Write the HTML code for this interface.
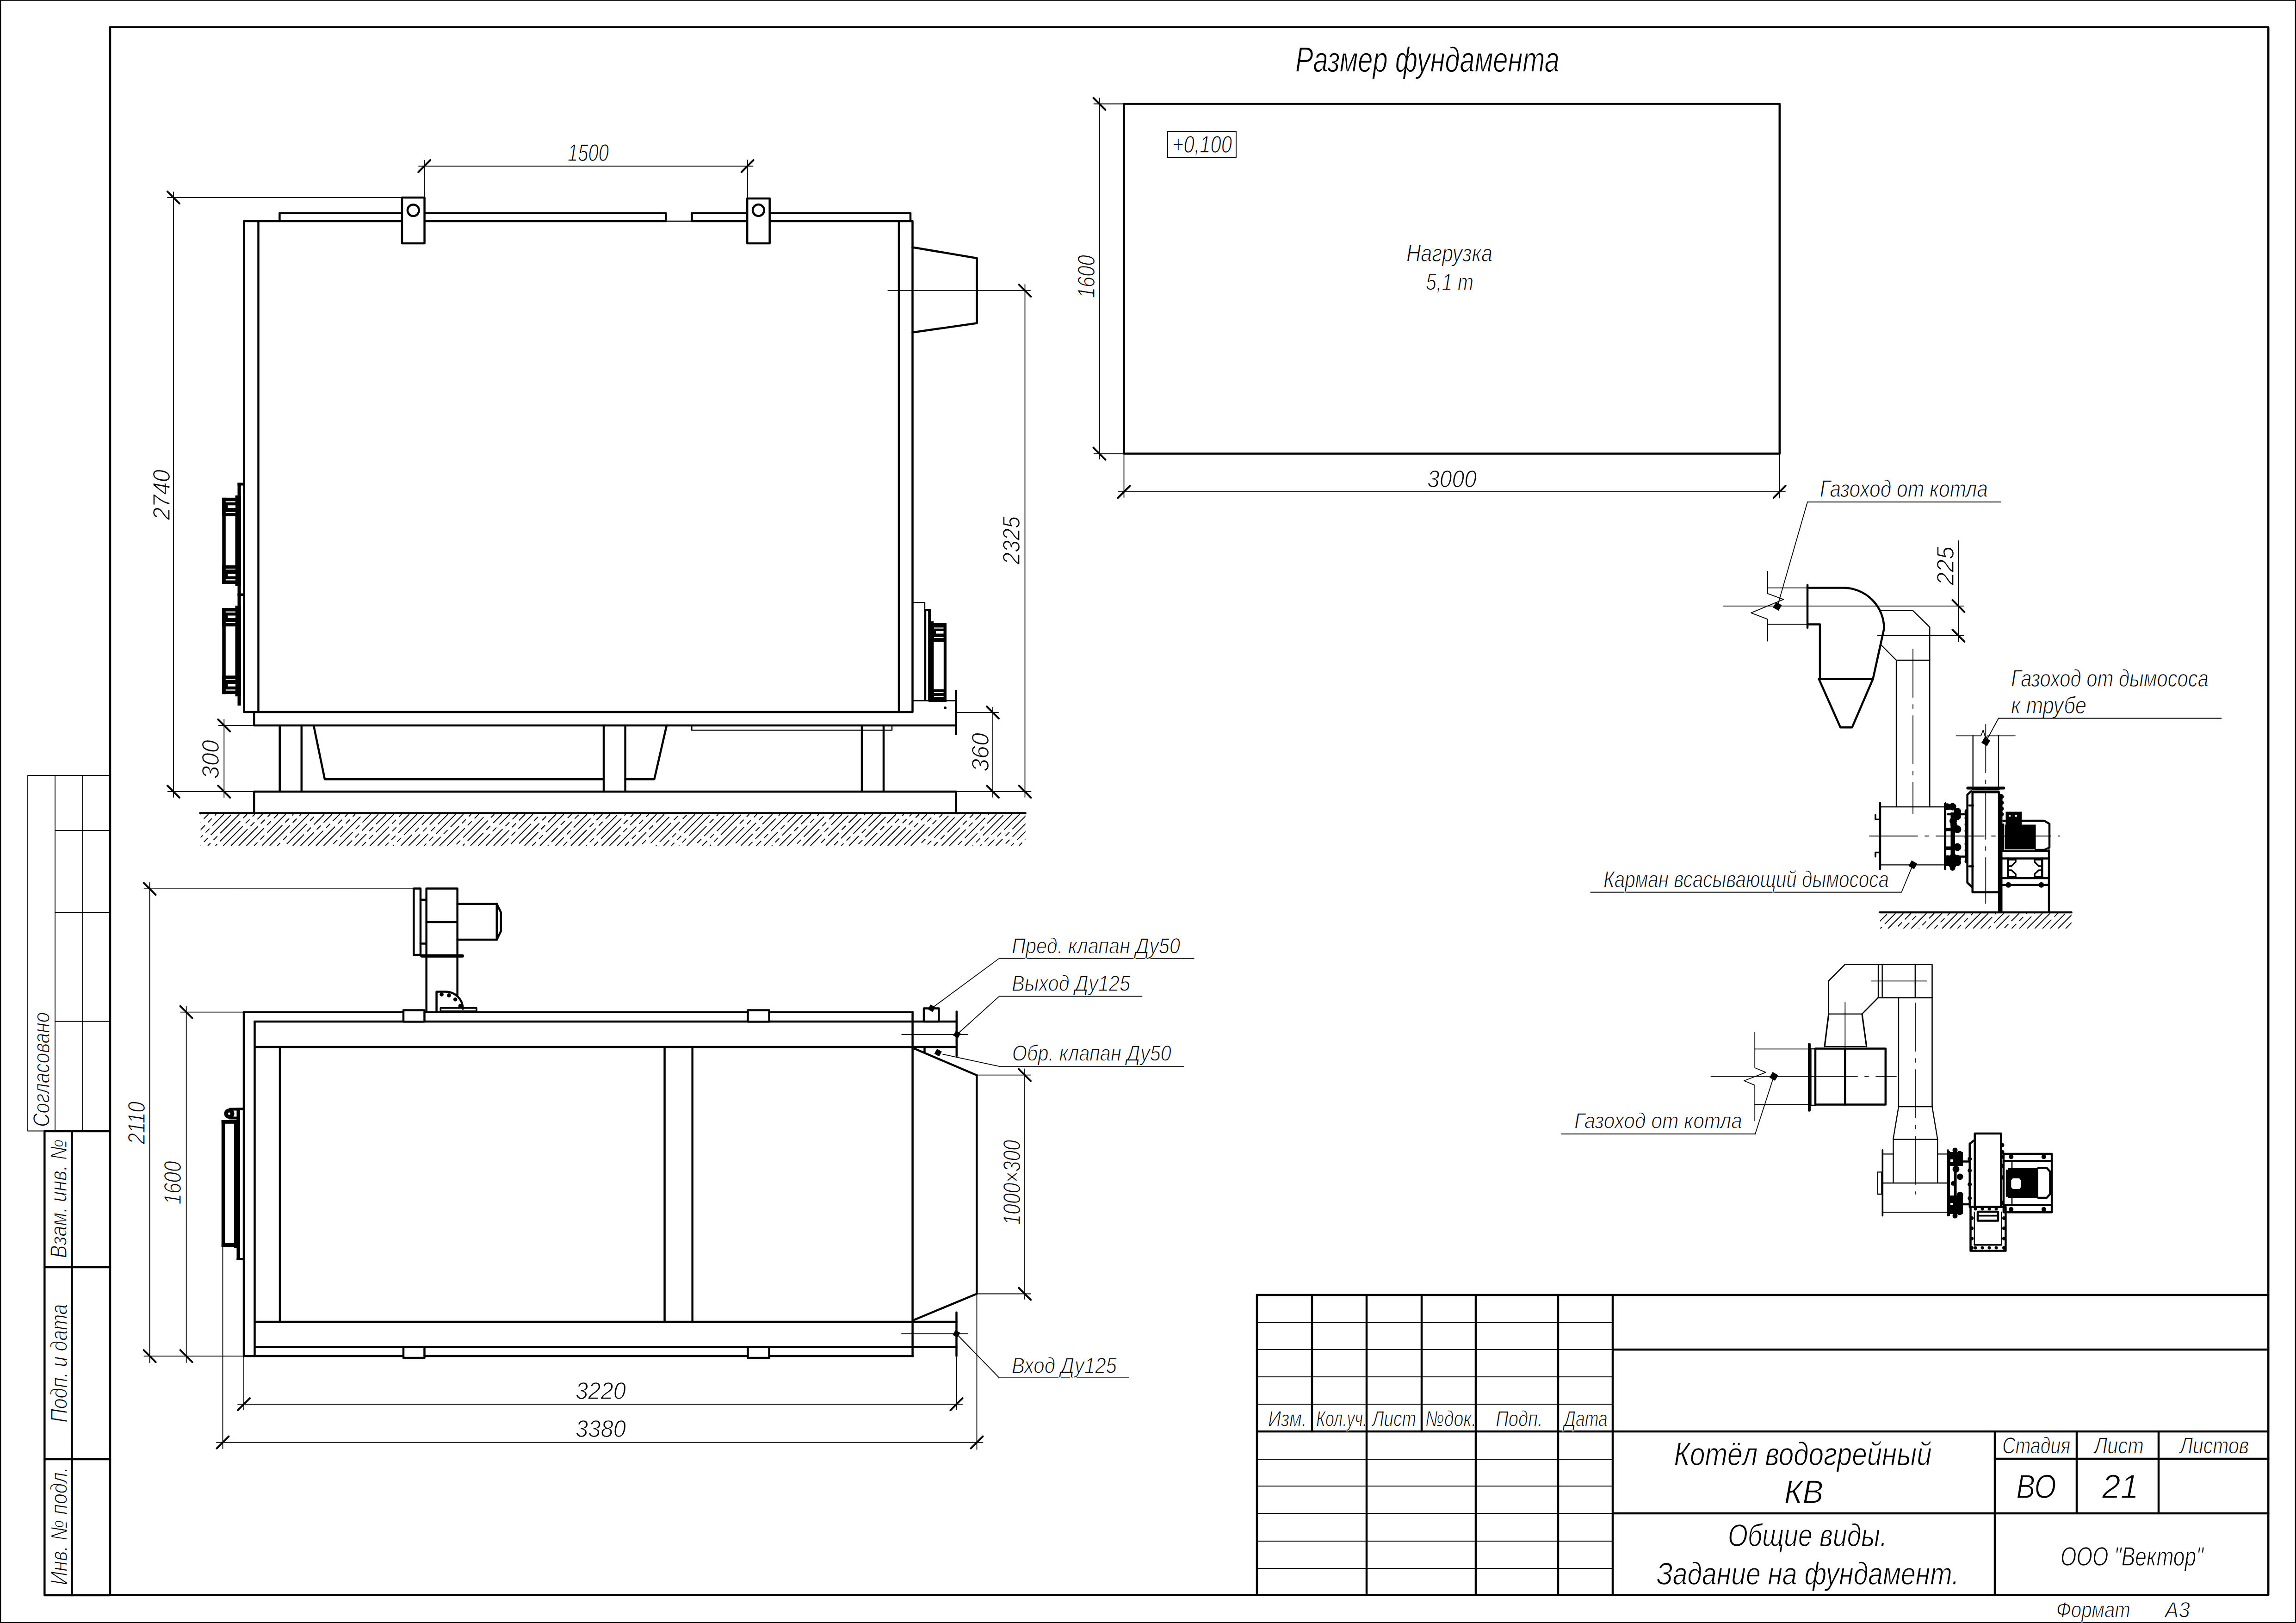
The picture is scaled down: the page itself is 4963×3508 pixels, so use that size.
<!DOCTYPE html>
<html><head><meta charset="utf-8"><style>
html,body{margin:0;padding:0;background:#fff;}
svg{display:block;}
text{font-family:"Liberation Sans",sans-serif;font-style:italic;fill:#000;stroke:#fff;stroke-width:1.3px;}
</style></head><body>
<svg width="4963" height="3508" viewBox="0 0 4963 3508">
<rect x="0" y="0" width="4963" height="3508" fill="#fff"/>
<g stroke="#000" fill="none" stroke-linecap="round" stroke-linejoin="round">
<rect x="1.2" y="0.6" width="4960.6" height="3506.4" stroke-width="2.2" fill="none"/>
<rect x="238" y="58.7" width="4665.2" height="3388.8" stroke-width="4.5" fill="none"/>
<rect x="60" y="1676" width="178" height="768.5" stroke-width="1.8" fill="none"/>
<line x1="119" y1="1676" x2="119" y2="2444.5" stroke-width="1.8"/>
<line x1="178.6" y1="1676" x2="178.6" y2="2444.5" stroke-width="1.8"/>
<line x1="119" y1="1795" x2="238" y2="1795" stroke-width="1.8"/>
<line x1="119" y1="1972" x2="238" y2="1972" stroke-width="1.8"/>
<line x1="119" y1="2207.6" x2="238" y2="2207.6" stroke-width="1.8"/>
<polyline points="238,2445 96.3,2445 96.3,3448 238,3448" stroke-width="4.5" fill="none"/>
<line x1="155.5" y1="2445" x2="155.5" y2="3448" stroke-width="4.5"/>
<line x1="96.3" y1="2739" x2="238" y2="2739" stroke-width="4.5"/>
<line x1="96.3" y1="3154" x2="238" y2="3154" stroke-width="4.5"/>
<text x="107.3" y="2435.8" font-size="49.4" text-anchor="start" textLength="248.1" lengthAdjust="spacingAndGlyphs" transform="rotate(-90 107.3 2435.8)">Согласовано</text>
<text x="144" y="2719.2" font-size="50.1" text-anchor="start" textLength="257.1" lengthAdjust="spacingAndGlyphs" transform="rotate(-90 144 2719.2)">Взам. инв. №</text>
<text x="144.7" y="3074.8" font-size="50.1" text-anchor="start" textLength="256.1" lengthAdjust="spacingAndGlyphs" transform="rotate(-90 144.7 3074.8)">Подп. и дата</text>
<text x="144.7" y="3426" font-size="50.1" text-anchor="start" textLength="255.2" lengthAdjust="spacingAndGlyphs" transform="rotate(-90 144.7 3426)">Инв. № подл.</text>
<line x1="2954" y1="2799" x2="2954" y2="3447.5" stroke-width="4.5"/>
<line x1="3190" y1="2799" x2="3190" y2="3447.5" stroke-width="4.5"/>
<line x1="3368" y1="2799" x2="3368" y2="3447.5" stroke-width="4.5"/>
<line x1="3486" y1="2799" x2="3486" y2="3447.5" stroke-width="4.5"/>
<line x1="2836" y1="2799" x2="2836" y2="3094" stroke-width="4.5"/>
<line x1="3073" y1="2799" x2="3073" y2="3094" stroke-width="4.5"/>
<line x1="2717" y1="2799" x2="2717" y2="3447.5" stroke-width="4.5"/>
<line x1="2717" y1="2799" x2="4903.2" y2="2799" stroke-width="4.5"/>
<line x1="2717" y1="2858" x2="3486" y2="2858" stroke-width="1.8"/>
<line x1="2717" y1="2917" x2="3486" y2="2917" stroke-width="1.8"/>
<line x1="2717" y1="2976" x2="3486" y2="2976" stroke-width="1.8"/>
<line x1="2717" y1="3035" x2="3486" y2="3035" stroke-width="1.8"/>
<line x1="2717" y1="3094" x2="4903.2" y2="3094" stroke-width="4.5"/>
<line x1="2717" y1="3154" x2="3486" y2="3154" stroke-width="1.8"/>
<line x1="2717" y1="3212" x2="3486" y2="3212" stroke-width="1.8"/>
<line x1="2717" y1="3271" x2="3486" y2="3271" stroke-width="1.8"/>
<line x1="2717" y1="3331" x2="3486" y2="3331" stroke-width="1.8"/>
<line x1="2717" y1="3390" x2="3486" y2="3390" stroke-width="1.8"/>
<line x1="3486" y1="2917" x2="4903.2" y2="2917" stroke-width="4.5"/>
<line x1="3486" y1="3271" x2="4903.2" y2="3271" stroke-width="4.5"/>
<line x1="4312" y1="3094" x2="4312" y2="3447.5" stroke-width="4.5"/>
<line x1="4489" y1="3094" x2="4489" y2="3271" stroke-width="4.5"/>
<line x1="4666" y1="3094" x2="4666" y2="3271" stroke-width="4.5"/>
<line x1="4312" y1="3153" x2="4903.2" y2="3153" stroke-width="4.5"/>
<text x="2741" y="3082.7" font-size="48" text-anchor="start" textLength="83.7" lengthAdjust="spacingAndGlyphs">Изм.</text>
<text x="2845" y="3082.7" font-size="48" text-anchor="start" textLength="110.4" lengthAdjust="spacingAndGlyphs">Кол.уч.</text>
<text x="2966.2" y="3082.7" font-size="48" text-anchor="start" textLength="95" lengthAdjust="spacingAndGlyphs">Лист</text>
<text x="3081" y="3082.7" font-size="48" text-anchor="start" textLength="110.5" lengthAdjust="spacingAndGlyphs">№док.</text>
<text x="3233.2" y="3082.7" font-size="48" text-anchor="start" textLength="101.6" lengthAdjust="spacingAndGlyphs">Подп.</text>
<text x="3380.8" y="3082.7" font-size="48" text-anchor="start" textLength="94" lengthAdjust="spacingAndGlyphs">Дата</text>
<text x="4328.2" y="3142" font-size="50.4" text-anchor="start" textLength="147.1" lengthAdjust="spacingAndGlyphs">Стадия</text>
<text x="4526.8" y="3142" font-size="50.4" text-anchor="start" textLength="107" lengthAdjust="spacingAndGlyphs">Лист</text>
<text x="4712" y="3142" font-size="50.4" text-anchor="start" textLength="149" lengthAdjust="spacingAndGlyphs">Листов</text>
<text x="4358.4" y="3237.8" font-size="72.7" text-anchor="start" textLength="86.3" lengthAdjust="spacingAndGlyphs">ВО</text>
<text x="4544" y="3237.8" font-size="72.7" text-anchor="start" textLength="78.8" lengthAdjust="spacingAndGlyphs">21</text>
<text x="3618.6" y="3166.8" font-size="71.2" text-anchor="start" textLength="557" lengthAdjust="spacingAndGlyphs">Котёл водогрейный</text>
<text x="3856.8" y="3249" font-size="71.2" text-anchor="start" textLength="84.4" lengthAdjust="spacingAndGlyphs">КВ</text>
<text x="3735" y="3342.4" font-size="68.3" text-anchor="start" textLength="344.4" lengthAdjust="spacingAndGlyphs">Общие виды.</text>
<text x="3580.8" y="3424.7" font-size="68.3" text-anchor="start" textLength="654.1" lengthAdjust="spacingAndGlyphs">Задание на фундамент.</text>
<text x="4454" y="3384" font-size="58.1" text-anchor="start" textLength="309" lengthAdjust="spacingAndGlyphs">ООО "Вектор"</text>
<text x="4444.8" y="3495.7" font-size="48" text-anchor="start" textLength="160.1" lengthAdjust="spacingAndGlyphs">Формат</text>
<text x="4679.8" y="3495.7" font-size="48" text-anchor="start" textLength="54" lengthAdjust="spacingAndGlyphs">А3</text>
<polyline points="1439.3,478 527.5,478 527.5,1539 1972.5,1539 1972.5,478 1495.5,478" stroke-width="4.5" fill="none"/>
<line x1="1439.3" y1="478" x2="1495.5" y2="478" stroke-width="2.6"/>
<line x1="558.5" y1="478" x2="558.5" y2="1539" stroke-width="4.5"/>
<line x1="1943" y1="478" x2="1943" y2="1539" stroke-width="4.5"/>
<polyline points="604.4,478 604.4,460.8 869,460.8" stroke-width="4.5" fill="none"/>
<polyline points="917.6,460.8 1439.3,460.8 1439.3,478" stroke-width="4.5" fill="none"/>
<polyline points="1495.5,478 1495.5,460.8 1615.2,460.8" stroke-width="4.5" fill="none"/>
<polyline points="1663.7,460.8 1968,460.8 1968,478" stroke-width="4.5" fill="none"/>
<rect x="869" y="427" width="48.6" height="99" stroke-width="4.5" fill="#fff"/>
<circle cx="893.3" cy="454.6" r="12.4" stroke-width="4.5" fill="none"/>
<rect x="1615.2" y="429" width="48.5" height="97" stroke-width="4.5" fill="#fff"/>
<circle cx="1639.4" cy="454.4" r="12.4" stroke-width="4.5" fill="none"/>
<polyline points="1972.5,534.5 2111.6,558 2111.6,698.4 1972.5,718.5" stroke-width="4.5" fill="none"/>
<line x1="1919.4" y1="628.2" x2="2227" y2="628.2" stroke-width="1.8"/>
<polyline points="549.2,1539 549.2,1568 2066.6,1568" stroke-width="4.5" fill="none"/>
<line x1="2066.6" y1="1493" x2="2066.6" y2="1587" stroke-width="4.5"/>
<line x1="1973" y1="1514.5" x2="2066.6" y2="1514.5" stroke-width="3.15"/>
<line x1="604.7" y1="1568" x2="604.7" y2="1711" stroke-width="4.5"/>
<line x1="651.8" y1="1568" x2="651.8" y2="1711" stroke-width="4.5"/>
<line x1="1305" y1="1568" x2="1305" y2="1711" stroke-width="4.5"/>
<line x1="1351.6" y1="1568" x2="1351.6" y2="1711" stroke-width="4.5"/>
<line x1="1863" y1="1568" x2="1863" y2="1711" stroke-width="4.5"/>
<line x1="1910" y1="1568" x2="1910" y2="1711" stroke-width="4.5"/>
<polyline points="678,1568 702,1684.3 1305,1684.3" stroke-width="4.5" fill="none"/>
<polyline points="1351.6,1684.3 1414.3,1684.3 1441,1568" stroke-width="4.5" fill="none"/>
<rect x="1495.3" y="1568" width="432.7" height="10.2" stroke-width="2.6" fill="none"/>
<line x1="549.2" y1="1711" x2="2066.6" y2="1711" stroke-width="4.5"/>
<line x1="549.2" y1="1711" x2="549.2" y2="1757.6" stroke-width="4.5"/>
<line x1="2066.6" y1="1711" x2="2066.6" y2="1757.6" stroke-width="4.5"/>
<line x1="432.5" y1="1757.6" x2="2216.6" y2="1757.6" stroke-width="4.5"/>
<rect x="513.5" y="1043.5" width="7.2" height="481.5" stroke="none" fill="#000"/>
<rect x="513.5" y="1043.5" width="16.5" height="6" stroke="none" fill="#000"/>
<rect x="513.5" y="1282.5" width="16.5" height="5.5" stroke="none" fill="#000"/>
<rect x="480.3" y="1075.8" width="7.5" height="186.2" stroke="none" fill="#000"/>
<rect x="508.5" y="1070.8" width="12.2" height="196.2" stroke="none" fill="#000"/>
<rect x="480.3" y="1075.8" width="28.7" height="40" stroke="none" fill="#000"/>
<rect x="480.3" y="1222" width="28.7" height="40" stroke="none" fill="#000"/>
<rect x="487.8" y="1083.3" width="21" height="2.4" fill="#fff" stroke="none"/>
<rect x="487.8" y="1252.1" width="21" height="2.4" fill="#fff" stroke="none"/>
<rect x="492.5" y="1092.3" width="16.5" height="5.5" fill="#fff" stroke="none"/>
<rect x="492.5" y="1240" width="16.5" height="5.5" fill="#fff" stroke="none"/>
<rect x="487.8" y="1106.8" width="21" height="2" fill="#fff" stroke="none"/>
<rect x="487.8" y="1229" width="21" height="2" fill="#fff" stroke="none"/>
<rect x="480.3" y="1314" width="7.5" height="186.2" stroke="none" fill="#000"/>
<rect x="508.5" y="1309" width="12.2" height="196.2" stroke="none" fill="#000"/>
<rect x="480.3" y="1314" width="28.7" height="40" stroke="none" fill="#000"/>
<rect x="480.3" y="1460.2" width="28.7" height="40" stroke="none" fill="#000"/>
<rect x="487.8" y="1321.5" width="21" height="2.4" fill="#fff" stroke="none"/>
<rect x="487.8" y="1490.3" width="21" height="2.4" fill="#fff" stroke="none"/>
<rect x="492.5" y="1330.5" width="16.5" height="5.5" fill="#fff" stroke="none"/>
<rect x="492.5" y="1478.2" width="16.5" height="5.5" fill="#fff" stroke="none"/>
<rect x="487.8" y="1345" width="21" height="2" fill="#fff" stroke="none"/>
<rect x="487.8" y="1467.2" width="21" height="2" fill="#fff" stroke="none"/>
<polyline points="1972.7,1302.5 1999,1302.5 1999,1317.8" stroke-width="2.3400000000000003" fill="none"/>
<rect x="1997.5" y="1316" width="4.7" height="200" stroke="none" fill="#000"/>
<rect x="1997.5" y="1316" width="14.5" height="4" stroke="none" fill="#000"/>
<rect x="2006.2" y="1316" width="6.1" height="200" stroke="none" fill="#000"/>
<rect x="2007.3" y="1343" width="11.1" height="174" stroke="none" fill="#000"/>
<rect x="2039.8" y="1346" width="6.2" height="171" stroke="none" fill="#000"/>
<rect x="2018" y="1346" width="28" height="41" stroke="none" fill="#000"/>
<rect x="2018" y="1490" width="28" height="27" stroke="none" fill="#000"/>
<rect x="2019" y="1356.4" width="20.5" height="2.2" fill="#fff" stroke="none"/>
<rect x="2023" y="1364" width="16.5" height="5.5" fill="#fff" stroke="none"/>
<rect x="2019" y="1377" width="20.5" height="2" fill="#fff" stroke="none"/>
<rect x="2019" y="1496" width="20.5" height="2" fill="#fff" stroke="none"/>
<rect x="2019" y="1504" width="20.5" height="2.2" fill="#fff" stroke="none"/>
<circle cx="2043" cy="1530" r="3" stroke="none" fill="#000"/>
<line x1="905" y1="359" x2="1627.7" y2="359" stroke-width="1.8"/>
<line x1="904.2" y1="372" x2="930.2" y2="346" stroke-width="4.0"/>
<line x1="1602.7" y1="372" x2="1628.7" y2="346" stroke-width="4.0"/>
<line x1="917.2" y1="346.7" x2="917.2" y2="427" stroke-width="1.8"/>
<line x1="1615.7" y1="346" x2="1615.7" y2="429" stroke-width="1.8"/>
<text x="1227" y="347.6" font-size="50.9" text-anchor="start" textLength="89" lengthAdjust="spacingAndGlyphs">1500</text>
<line x1="374.9" y1="414.8" x2="374.9" y2="1723" stroke-width="1.8"/>
<line x1="361.9" y1="413.8" x2="387.9" y2="439.8" stroke-width="4.0"/>
<line x1="361.9" y1="1698" x2="387.9" y2="1724" stroke-width="4.0"/>
<line x1="362" y1="426.8" x2="869" y2="426.8" stroke-width="1.8"/>
<line x1="362.8" y1="1711" x2="549.2" y2="1711" stroke-width="1.8"/>
<text x="367" y="1124" font-size="50.9" text-anchor="start" textLength="109" lengthAdjust="spacingAndGlyphs" transform="rotate(-90 367 1124)">2740</text>
<line x1="484.3" y1="1555" x2="484.3" y2="1724" stroke-width="1.8"/>
<line x1="471.3" y1="1555" x2="497.3" y2="1581" stroke-width="4.0"/>
<line x1="471.3" y1="1698" x2="497.3" y2="1724" stroke-width="4.0"/>
<line x1="472.8" y1="1568" x2="549.2" y2="1568" stroke-width="1.8"/>
<text x="472.8" y="1683.4" font-size="50.9" text-anchor="start" textLength="84.1" lengthAdjust="spacingAndGlyphs" transform="rotate(-90 472.8 1683.4)">300</text>
<line x1="2146" y1="1528.6" x2="2146" y2="1723" stroke-width="1.8"/>
<line x1="2133" y1="1527" x2="2159" y2="1553" stroke-width="4.0"/>
<line x1="2133" y1="1698" x2="2159" y2="1724" stroke-width="4.0"/>
<line x1="2068" y1="1540" x2="2158" y2="1540" stroke-width="1.8"/>
<line x1="2068" y1="1711" x2="2228.5" y2="1711" stroke-width="1.8"/>
<text x="2137" y="1668" font-size="50.9" text-anchor="start" textLength="84.1" lengthAdjust="spacingAndGlyphs" transform="rotate(-90 2137 1668)">360</text>
<line x1="2215.5" y1="615" x2="2215.5" y2="1723" stroke-width="1.8"/>
<line x1="2202.5" y1="615.2" x2="2228.5" y2="641.2" stroke-width="4.0"/>
<line x1="2202.5" y1="1698" x2="2228.5" y2="1724" stroke-width="4.0"/>
<text x="2204" y="1220" font-size="50.9" text-anchor="start" textLength="104" lengthAdjust="spacingAndGlyphs" transform="rotate(-90 2204 1220)">2325</text>
<clipPath id="hc1"><rect x="433.7" y="1760" width="1782.9" height="68"/></clipPath>
<g clip-path="url(#hc1)" stroke-linecap="butt">
<line x1="365.7" y1="1828" x2="433.7" y2="1760" stroke-width="2.0" stroke-dasharray="62,9,12,9" stroke-dashoffset="16.1"/>
<line x1="382.4" y1="1828" x2="450.4" y2="1760" stroke-width="2.0" stroke-dasharray="62,9,12,9" stroke-dashoffset="101.7"/>
<line x1="399.1" y1="1828" x2="467.1" y2="1760" stroke-width="2.0" stroke-dasharray="62,9,12,9" stroke-dashoffset="91.7"/>
<line x1="415.8" y1="1828" x2="483.8" y2="1760" stroke-width="2.0" stroke-dasharray="62,9,12,9" stroke-dashoffset="30.6"/>
<line x1="432.5" y1="1828" x2="500.5" y2="1760" stroke-width="2.0" stroke-dasharray="62,9,12,9" stroke-dashoffset="59.5"/>
<line x1="449.2" y1="1828" x2="517.2" y2="1760" stroke-width="2.0" stroke-dasharray="62,9,12,9" stroke-dashoffset="53.9"/>
<line x1="465.9" y1="1828" x2="533.9" y2="1760" stroke-width="2.0" stroke-dasharray="62,9,12,9" stroke-dashoffset="78.2"/>
<line x1="482.6" y1="1828" x2="550.6" y2="1760" stroke-width="2.0" stroke-dasharray="62,9,12,9" stroke-dashoffset="94.6"/>
<line x1="499.3" y1="1828" x2="567.3" y2="1760" stroke-width="2.0" stroke-dasharray="62,9,12,9" stroke-dashoffset="11.3"/>
<line x1="516" y1="1828" x2="584" y2="1760" stroke-width="2.0" stroke-dasharray="62,9,12,9" stroke-dashoffset="3.4"/>
<line x1="532.7" y1="1828" x2="600.7" y2="1760" stroke-width="2.0" stroke-dasharray="62,9,12,9" stroke-dashoffset="100.3"/>
<line x1="549.4" y1="1828" x2="617.4" y2="1760" stroke-width="2.0" stroke-dasharray="62,9,12,9" stroke-dashoffset="51.9"/>
<line x1="566.1" y1="1828" x2="634.1" y2="1760" stroke-width="2.0" stroke-dasharray="62,9,12,9" stroke-dashoffset="91.5"/>
<line x1="582.8" y1="1828" x2="650.8" y2="1760" stroke-width="2.0" stroke-dasharray="62,9,12,9" stroke-dashoffset="0.3"/>
<line x1="599.5" y1="1828" x2="667.5" y2="1760" stroke-width="2.0" stroke-dasharray="62,9,12,9" stroke-dashoffset="53.4"/>
<line x1="616.2" y1="1828" x2="684.2" y2="1760" stroke-width="2.0" stroke-dasharray="62,9,12,9" stroke-dashoffset="86.6"/>
<line x1="632.9" y1="1828" x2="700.9" y2="1760" stroke-width="2.0" stroke-dasharray="62,9,12,9" stroke-dashoffset="27.5"/>
<line x1="649.6" y1="1828" x2="717.6" y2="1760" stroke-width="2.0" stroke-dasharray="62,9,12,9" stroke-dashoffset="113.4"/>
<line x1="666.3" y1="1828" x2="734.3" y2="1760" stroke-width="2.0" stroke-dasharray="62,9,12,9" stroke-dashoffset="108.2"/>
<line x1="683" y1="1828" x2="751" y2="1760" stroke-width="2.0" stroke-dasharray="62,9,12,9" stroke-dashoffset="3.7"/>
<line x1="699.7" y1="1828" x2="767.7" y2="1760" stroke-width="2.0" stroke-dasharray="62,9,12,9" stroke-dashoffset="3.1"/>
<line x1="716.4" y1="1828" x2="784.4" y2="1760" stroke-width="2.0" stroke-dasharray="62,9,12,9" stroke-dashoffset="65"/>
<line x1="733.1" y1="1828" x2="801.1" y2="1760" stroke-width="2.0" stroke-dasharray="62,9,12,9" stroke-dashoffset="112.7"/>
<line x1="749.8" y1="1828" x2="817.8" y2="1760" stroke-width="2.0" stroke-dasharray="62,9,12,9" stroke-dashoffset="45.7"/>
<line x1="766.5" y1="1828" x2="834.5" y2="1760" stroke-width="2.0" stroke-dasharray="62,9,12,9" stroke-dashoffset="26"/>
<line x1="783.2" y1="1828" x2="851.2" y2="1760" stroke-width="2.0" stroke-dasharray="62,9,12,9" stroke-dashoffset="50.7"/>
<line x1="799.9" y1="1828" x2="867.9" y2="1760" stroke-width="2.0" stroke-dasharray="62,9,12,9" stroke-dashoffset="3.5"/>
<line x1="816.6" y1="1828" x2="884.6" y2="1760" stroke-width="2.0" stroke-dasharray="62,9,12,9" stroke-dashoffset="26.6"/>
<line x1="833.3" y1="1828" x2="901.3" y2="1760" stroke-width="2.0" stroke-dasharray="62,9,12,9" stroke-dashoffset="52.5"/>
<line x1="850" y1="1828" x2="918" y2="1760" stroke-width="2.0" stroke-dasharray="62,9,12,9" stroke-dashoffset="59.5"/>
<line x1="866.7" y1="1828" x2="934.7" y2="1760" stroke-width="2.0" stroke-dasharray="62,9,12,9" stroke-dashoffset="28"/>
<line x1="883.4" y1="1828" x2="951.4" y2="1760" stroke-width="2.0" stroke-dasharray="62,9,12,9" stroke-dashoffset="27.7"/>
<line x1="900.1" y1="1828" x2="968.1" y2="1760" stroke-width="2.0" stroke-dasharray="62,9,12,9" stroke-dashoffset="26.3"/>
<line x1="916.8" y1="1828" x2="984.8" y2="1760" stroke-width="2.0" stroke-dasharray="62,9,12,9" stroke-dashoffset="55.2"/>
<line x1="933.5" y1="1828" x2="1001.5" y2="1760" stroke-width="2.0" stroke-dasharray="62,9,12,9" stroke-dashoffset="34.8"/>
<line x1="950.2" y1="1828" x2="1018.2" y2="1760" stroke-width="2.0" stroke-dasharray="62,9,12,9" stroke-dashoffset="2.6"/>
<line x1="966.9" y1="1828" x2="1034.9" y2="1760" stroke-width="2.0" stroke-dasharray="62,9,12,9" stroke-dashoffset="100.5"/>
<line x1="983.6" y1="1828" x2="1051.6" y2="1760" stroke-width="2.0" stroke-dasharray="62,9,12,9" stroke-dashoffset="66.8"/>
<line x1="1000.3" y1="1828" x2="1068.3" y2="1760" stroke-width="2.0" stroke-dasharray="62,9,12,9" stroke-dashoffset="77.1"/>
<line x1="1017" y1="1828" x2="1085" y2="1760" stroke-width="2.0" stroke-dasharray="62,9,12,9" stroke-dashoffset="22.3"/>
<line x1="1033.7" y1="1828" x2="1101.7" y2="1760" stroke-width="2.0" stroke-dasharray="62,9,12,9" stroke-dashoffset="119.1"/>
<line x1="1050.4" y1="1828" x2="1118.4" y2="1760" stroke-width="2.0" stroke-dasharray="62,9,12,9" stroke-dashoffset="103.2"/>
<line x1="1067.1" y1="1828" x2="1135.1" y2="1760" stroke-width="2.0" stroke-dasharray="62,9,12,9" stroke-dashoffset="14.5"/>
<line x1="1083.8" y1="1828" x2="1151.8" y2="1760" stroke-width="2.0" stroke-dasharray="62,9,12,9" stroke-dashoffset="39.9"/>
<line x1="1100.5" y1="1828" x2="1168.5" y2="1760" stroke-width="2.0" stroke-dasharray="62,9,12,9" stroke-dashoffset="86.6"/>
<line x1="1117.2" y1="1828" x2="1185.2" y2="1760" stroke-width="2.0" stroke-dasharray="62,9,12,9" stroke-dashoffset="85.3"/>
<line x1="1133.9" y1="1828" x2="1201.9" y2="1760" stroke-width="2.0" stroke-dasharray="62,9,12,9" stroke-dashoffset="112.4"/>
<line x1="1150.6" y1="1828" x2="1218.6" y2="1760" stroke-width="2.0" stroke-dasharray="62,9,12,9" stroke-dashoffset="50.7"/>
<line x1="1167.3" y1="1828" x2="1235.3" y2="1760" stroke-width="2.0" stroke-dasharray="62,9,12,9" stroke-dashoffset="99.6"/>
<line x1="1184" y1="1828" x2="1252" y2="1760" stroke-width="2.0" stroke-dasharray="62,9,12,9" stroke-dashoffset="80.4"/>
<line x1="1200.7" y1="1828" x2="1268.7" y2="1760" stroke-width="2.0" stroke-dasharray="62,9,12,9" stroke-dashoffset="36.4"/>
<line x1="1217.4" y1="1828" x2="1285.4" y2="1760" stroke-width="2.0" stroke-dasharray="62,9,12,9" stroke-dashoffset="70.5"/>
<line x1="1234.1" y1="1828" x2="1302.1" y2="1760" stroke-width="2.0" stroke-dasharray="62,9,12,9" stroke-dashoffset="105.9"/>
<line x1="1250.8" y1="1828" x2="1318.8" y2="1760" stroke-width="2.0" stroke-dasharray="62,9,12,9" stroke-dashoffset="101.5"/>
<line x1="1267.5" y1="1828" x2="1335.5" y2="1760" stroke-width="2.0" stroke-dasharray="62,9,12,9" stroke-dashoffset="60.6"/>
<line x1="1284.2" y1="1828" x2="1352.2" y2="1760" stroke-width="2.0" stroke-dasharray="62,9,12,9" stroke-dashoffset="70.7"/>
<line x1="1300.9" y1="1828" x2="1368.9" y2="1760" stroke-width="2.0" stroke-dasharray="62,9,12,9" stroke-dashoffset="4.1"/>
<line x1="1317.6" y1="1828" x2="1385.6" y2="1760" stroke-width="2.0" stroke-dasharray="62,9,12,9" stroke-dashoffset="29.1"/>
<line x1="1334.3" y1="1828" x2="1402.3" y2="1760" stroke-width="2.0" stroke-dasharray="62,9,12,9" stroke-dashoffset="95.7"/>
<line x1="1351" y1="1828" x2="1419" y2="1760" stroke-width="2.0" stroke-dasharray="62,9,12,9" stroke-dashoffset="49.7"/>
<line x1="1367.7" y1="1828" x2="1435.7" y2="1760" stroke-width="2.0" stroke-dasharray="62,9,12,9" stroke-dashoffset="20.8"/>
<line x1="1384.4" y1="1828" x2="1452.4" y2="1760" stroke-width="2.0" stroke-dasharray="62,9,12,9" stroke-dashoffset="65.9"/>
<line x1="1401.1" y1="1828" x2="1469.1" y2="1760" stroke-width="2.0" stroke-dasharray="62,9,12,9" stroke-dashoffset="84.4"/>
<line x1="1417.8" y1="1828" x2="1485.8" y2="1760" stroke-width="2.0" stroke-dasharray="62,9,12,9" stroke-dashoffset="80.9"/>
<line x1="1434.5" y1="1828" x2="1502.5" y2="1760" stroke-width="2.0" stroke-dasharray="62,9,12,9" stroke-dashoffset="45"/>
<line x1="1451.2" y1="1828" x2="1519.2" y2="1760" stroke-width="2.0" stroke-dasharray="62,9,12,9" stroke-dashoffset="52.7"/>
<line x1="1467.9" y1="1828" x2="1535.9" y2="1760" stroke-width="2.0" stroke-dasharray="62,9,12,9" stroke-dashoffset="61"/>
<line x1="1484.6" y1="1828" x2="1552.6" y2="1760" stroke-width="2.0" stroke-dasharray="62,9,12,9" stroke-dashoffset="93.4"/>
<line x1="1501.3" y1="1828" x2="1569.3" y2="1760" stroke-width="2.0" stroke-dasharray="62,9,12,9" stroke-dashoffset="62.5"/>
<line x1="1518" y1="1828" x2="1586" y2="1760" stroke-width="2.0" stroke-dasharray="62,9,12,9" stroke-dashoffset="47.2"/>
<line x1="1534.7" y1="1828" x2="1602.7" y2="1760" stroke-width="2.0" stroke-dasharray="62,9,12,9" stroke-dashoffset="58.8"/>
<line x1="1551.4" y1="1828" x2="1619.4" y2="1760" stroke-width="2.0" stroke-dasharray="62,9,12,9" stroke-dashoffset="3.5"/>
<line x1="1568.1" y1="1828" x2="1636.1" y2="1760" stroke-width="2.0" stroke-dasharray="62,9,12,9" stroke-dashoffset="5.2"/>
<line x1="1584.8" y1="1828" x2="1652.8" y2="1760" stroke-width="2.0" stroke-dasharray="62,9,12,9" stroke-dashoffset="84.4"/>
<line x1="1601.5" y1="1828" x2="1669.5" y2="1760" stroke-width="2.0" stroke-dasharray="62,9,12,9" stroke-dashoffset="118"/>
<line x1="1618.2" y1="1828" x2="1686.2" y2="1760" stroke-width="2.0" stroke-dasharray="62,9,12,9" stroke-dashoffset="71.2"/>
<line x1="1634.9" y1="1828" x2="1702.9" y2="1760" stroke-width="2.0" stroke-dasharray="62,9,12,9" stroke-dashoffset="47.2"/>
<line x1="1651.6" y1="1828" x2="1719.6" y2="1760" stroke-width="2.0" stroke-dasharray="62,9,12,9" stroke-dashoffset="20.4"/>
<line x1="1668.3" y1="1828" x2="1736.3" y2="1760" stroke-width="2.0" stroke-dasharray="62,9,12,9" stroke-dashoffset="60.3"/>
<line x1="1685" y1="1828" x2="1753" y2="1760" stroke-width="2.0" stroke-dasharray="62,9,12,9" stroke-dashoffset="117.8"/>
<line x1="1701.7" y1="1828" x2="1769.7" y2="1760" stroke-width="2.0" stroke-dasharray="62,9,12,9" stroke-dashoffset="92.5"/>
<line x1="1718.4" y1="1828" x2="1786.4" y2="1760" stroke-width="2.0" stroke-dasharray="62,9,12,9" stroke-dashoffset="64.8"/>
<line x1="1735.1" y1="1828" x2="1803.1" y2="1760" stroke-width="2.0" stroke-dasharray="62,9,12,9" stroke-dashoffset="103.2"/>
<line x1="1751.8" y1="1828" x2="1819.8" y2="1760" stroke-width="2.0" stroke-dasharray="62,9,12,9" stroke-dashoffset="27.9"/>
<line x1="1768.5" y1="1828" x2="1836.5" y2="1760" stroke-width="2.0" stroke-dasharray="62,9,12,9" stroke-dashoffset="61.7"/>
<line x1="1785.2" y1="1828" x2="1853.2" y2="1760" stroke-width="2.0" stroke-dasharray="62,9,12,9" stroke-dashoffset="114.3"/>
<line x1="1801.9" y1="1828" x2="1869.9" y2="1760" stroke-width="2.0" stroke-dasharray="62,9,12,9" stroke-dashoffset="69.3"/>
<line x1="1818.6" y1="1828" x2="1886.6" y2="1760" stroke-width="2.0" stroke-dasharray="62,9,12,9" stroke-dashoffset="55.1"/>
<line x1="1835.3" y1="1828" x2="1903.3" y2="1760" stroke-width="2.0" stroke-dasharray="62,9,12,9" stroke-dashoffset="32.3"/>
<line x1="1852" y1="1828" x2="1920" y2="1760" stroke-width="2.0" stroke-dasharray="62,9,12,9" stroke-dashoffset="65.8"/>
<line x1="1868.7" y1="1828" x2="1936.7" y2="1760" stroke-width="2.0" stroke-dasharray="62,9,12,9" stroke-dashoffset="114.9"/>
<line x1="1885.4" y1="1828" x2="1953.4" y2="1760" stroke-width="2.0" stroke-dasharray="62,9,12,9" stroke-dashoffset="0.7"/>
<line x1="1902.1" y1="1828" x2="1970.1" y2="1760" stroke-width="2.0" stroke-dasharray="62,9,12,9" stroke-dashoffset="94"/>
<line x1="1918.8" y1="1828" x2="1986.8" y2="1760" stroke-width="2.0" stroke-dasharray="62,9,12,9" stroke-dashoffset="98.5"/>
<line x1="1935.5" y1="1828" x2="2003.5" y2="1760" stroke-width="2.0" stroke-dasharray="62,9,12,9" stroke-dashoffset="106.3"/>
<line x1="1952.2" y1="1828" x2="2020.2" y2="1760" stroke-width="2.0" stroke-dasharray="62,9,12,9" stroke-dashoffset="88.9"/>
<line x1="1968.9" y1="1828" x2="2036.9" y2="1760" stroke-width="2.0" stroke-dasharray="62,9,12,9" stroke-dashoffset="97.1"/>
<line x1="1985.6" y1="1828" x2="2053.6" y2="1760" stroke-width="2.0" stroke-dasharray="62,9,12,9" stroke-dashoffset="62.2"/>
<line x1="2002.3" y1="1828" x2="2070.3" y2="1760" stroke-width="2.0" stroke-dasharray="62,9,12,9" stroke-dashoffset="67.4"/>
<line x1="2019" y1="1828" x2="2087" y2="1760" stroke-width="2.0" stroke-dasharray="62,9,12,9" stroke-dashoffset="51.1"/>
<line x1="2035.7" y1="1828" x2="2103.7" y2="1760" stroke-width="2.0" stroke-dasharray="62,9,12,9" stroke-dashoffset="6.7"/>
<line x1="2052.4" y1="1828" x2="2120.4" y2="1760" stroke-width="2.0" stroke-dasharray="62,9,12,9" stroke-dashoffset="104.4"/>
<line x1="2069.1" y1="1828" x2="2137.1" y2="1760" stroke-width="2.0" stroke-dasharray="62,9,12,9" stroke-dashoffset="68.4"/>
<line x1="2085.8" y1="1828" x2="2153.8" y2="1760" stroke-width="2.0" stroke-dasharray="62,9,12,9" stroke-dashoffset="24"/>
<line x1="2102.5" y1="1828" x2="2170.5" y2="1760" stroke-width="2.0" stroke-dasharray="62,9,12,9" stroke-dashoffset="60.6"/>
<line x1="2119.2" y1="1828" x2="2187.2" y2="1760" stroke-width="2.0" stroke-dasharray="62,9,12,9" stroke-dashoffset="58.2"/>
<line x1="2135.9" y1="1828" x2="2203.9" y2="1760" stroke-width="2.0" stroke-dasharray="62,9,12,9" stroke-dashoffset="42.8"/>
<line x1="2152.6" y1="1828" x2="2220.6" y2="1760" stroke-width="2.0" stroke-dasharray="62,9,12,9" stroke-dashoffset="41.5"/>
<line x1="2169.3" y1="1828" x2="2237.3" y2="1760" stroke-width="2.0" stroke-dasharray="62,9,12,9" stroke-dashoffset="64.6"/>
<line x1="2186" y1="1828" x2="2254" y2="1760" stroke-width="2.0" stroke-dasharray="62,9,12,9" stroke-dashoffset="74.8"/>
<line x1="2202.7" y1="1828" x2="2270.7" y2="1760" stroke-width="2.0" stroke-dasharray="62,9,12,9" stroke-dashoffset="73.5"/>
</g>
<text x="2800" y="154.8" font-size="75.6" text-anchor="start" textLength="571" lengthAdjust="spacingAndGlyphs">Размер фундамента</text>
<rect x="2429.5" y="224.5" width="1417.3" height="756.1" stroke-width="4.5" fill="none"/>
<rect x="2523.7" y="284" width="148.3" height="56.5" stroke-width="1.8" fill="none"/>
<text x="2534" y="330" font-size="50.9" text-anchor="start" textLength="129.1" lengthAdjust="spacingAndGlyphs">+0,100</text>
<text x="3040" y="565" font-size="52.3" text-anchor="start" textLength="186.1" lengthAdjust="spacingAndGlyphs">Нагрузка</text>
<text x="3082" y="627" font-size="49.4" text-anchor="start" textLength="103.2" lengthAdjust="spacingAndGlyphs">5,1 т</text>
<line x1="2376.5" y1="212" x2="2376.5" y2="992" stroke-width="1.8"/>
<line x1="2363.5" y1="211.5" x2="2389.5" y2="237.5" stroke-width="4.0"/>
<line x1="2363.5" y1="967.6" x2="2389.5" y2="993.6" stroke-width="4.0"/>
<line x1="2364.5" y1="224.5" x2="2429.5" y2="224.5" stroke-width="1.8"/>
<line x1="2364.7" y1="980.6" x2="2429.5" y2="980.6" stroke-width="1.8"/>
<text x="2366.5" y="644.2" font-size="50.9" text-anchor="start" textLength="93.1" lengthAdjust="spacingAndGlyphs" transform="rotate(-90 2366.5 644.2)">1600</text>
<line x1="2417.6" y1="1063" x2="3859" y2="1063" stroke-width="1.8"/>
<line x1="2416.5" y1="1076" x2="2442.5" y2="1050" stroke-width="4.0"/>
<line x1="3833.8" y1="1076" x2="3859.8" y2="1050" stroke-width="4.0"/>
<line x1="2429.5" y1="980.6" x2="2429.5" y2="1075" stroke-width="1.8"/>
<line x1="3846.8" y1="980.6" x2="3846.8" y2="1076" stroke-width="1.8"/>
<text x="3085" y="1053" font-size="50.9" text-anchor="start" textLength="107" lengthAdjust="spacingAndGlyphs">3000</text>
<line x1="527" y1="2187.7" x2="527" y2="2931" stroke-width="4.5"/>
<line x1="550.5" y1="2208" x2="550.5" y2="2931" stroke-width="4.5"/>
<line x1="527" y1="2187.7" x2="1972.6" y2="2187.7" stroke-width="4.5"/>
<line x1="550.5" y1="2208" x2="2067.8" y2="2208" stroke-width="4.5"/>
<line x1="554" y1="2263" x2="2067.8" y2="2263" stroke-width="4.5"/>
<line x1="605" y1="2263" x2="605" y2="2857" stroke-width="4.5"/>
<line x1="1436.6" y1="2263" x2="1436.6" y2="2857" stroke-width="4.5"/>
<line x1="1496.7" y1="2263" x2="1496.7" y2="2857" stroke-width="4.5"/>
<line x1="553.6" y1="2857" x2="2067.5" y2="2857" stroke-width="4.5"/>
<line x1="553.6" y1="2911.5" x2="2067.5" y2="2911.5" stroke-width="4.5"/>
<line x1="527" y1="2931" x2="1973.2" y2="2931" stroke-width="4.5"/>
<line x1="1972.6" y1="2187.7" x2="1972.6" y2="2931" stroke-width="4.5"/>
<line x1="2067.8" y1="2186.4" x2="2067.8" y2="2282.2" stroke-width="4.5"/>
<line x1="2067.5" y1="2836.8" x2="2067.5" y2="2931.1" stroke-width="4.5"/>
<rect x="1997" y="2179.4" width="32.4" height="28.6" stroke-width="4.5" fill="#fff"/>
<line x1="1949.3" y1="2236" x2="2092.2" y2="2236" stroke-width="1.8"/>
<line x1="1949" y1="2883" x2="2092" y2="2883" stroke-width="1.8"/>
<polyline points="1972.6,2264.8 2111.3,2324 2111.3,2796.5 1973.2,2854" stroke-width="4.5" fill="none"/>
<line x1="1998.5" y1="2263" x2="1998.5" y2="2274" stroke-width="4.5"/>
<rect x="872" y="2183.5" width="45.5" height="24.7" stroke-width="4.5" fill="#fff"/>
<rect x="872" y="2911.5" width="45.5" height="23.5" stroke-width="4.5" fill="#fff"/>
<rect x="1616.5" y="2183.5" width="46.1" height="24.7" stroke-width="4.5" fill="#fff"/>
<rect x="1616.5" y="2911.5" width="46.1" height="23.5" stroke-width="4.5" fill="#fff"/>
<rect x="921.7" y="1920.4" width="67" height="145.8" stroke-width="4.5" fill="none"/>
<line x1="921.7" y1="1992.9" x2="988.7" y2="1992.9" stroke-width="4.5"/>
<line x1="911.9" y1="2066.2" x2="999.3" y2="2066.2" stroke-width="7.2"/>
<line x1="921.7" y1="2066.2" x2="921.7" y2="2187.7" stroke-width="4.5"/>
<line x1="988.7" y1="2066.2" x2="988.7" y2="2151" stroke-width="4.5"/>
<rect x="894.3" y="1920.4" width="14.7" height="143.6" stroke-width="4.5" fill="none"/>
<line x1="909" y1="1944.7" x2="921.7" y2="1944.7" stroke-width="4.5"/>
<line x1="909" y1="2039.5" x2="921.7" y2="2039.5" stroke-width="4.5"/>
<polyline points="988.7,1953.7 1073.8,1953.7 1082.8,1972 1082.8,2012.5 1073.8,2031 988.7,2031" stroke-width="4.5" fill="none"/>
<line x1="1073.8" y1="1953.7" x2="1073.8" y2="2031" stroke-width="4.5"/>
<path d="M943.6,2187 L943.6,2143.4 L963.5,2143.4 A37,37 0 0 1 1000.5,2180.4" stroke-width="4.5" fill="none"/>
<circle cx="954.6" cy="2149.4" r="4.3" stroke="none" fill="#000"/>
<circle cx="970.5" cy="2151.4" r="4.3" stroke="none" fill="#000"/>
<circle cx="984.2" cy="2160.3" r="4.3" stroke="none" fill="#000"/>
<circle cx="995" cy="2174" r="4.3" stroke="none" fill="#000"/>
<rect x="952.3" y="2178.7" width="77.7" height="7" stroke-width="3.6" fill="none"/>
<rect x="511.5" y="2394" width="7.5" height="330" stroke="none" fill="#000"/>
<rect x="511.5" y="2394" width="17.5" height="5.5" stroke="none" fill="#000"/>
<rect x="511.5" y="2719" width="17.5" height="5" stroke="none" fill="#000"/>
<rect x="478.8" y="2421" width="7.8" height="274" stroke="none" fill="#000"/>
<rect x="478.8" y="2421" width="33.2" height="7.8" stroke="none" fill="#000"/>
<rect x="478.8" y="2687" width="33.2" height="8" stroke="none" fill="#000"/>
<rect x="506" y="2421" width="6" height="276" stroke="none" fill="#000"/>
<circle cx="495.5" cy="2407" r="6.8" stroke-width="8.5" fill="none"/>
<rect x="495.5" y="2394.4" width="16.5" height="6.1" stroke="none" fill="#000"/>
<rect x="495.5" y="2413.5" width="16.5" height="6" stroke="none" fill="#000"/>
<circle cx="495.5" cy="2407" r="1.5" fill="#fff" stroke="none"/>
<line x1="323.6" y1="1908" x2="323.6" y2="2945" stroke-width="1.8"/>
<line x1="310.6" y1="1908.2" x2="336.6" y2="1934.2" stroke-width="4.0"/>
<line x1="310.6" y1="2918.1" x2="336.6" y2="2944.1" stroke-width="4.0"/>
<line x1="311.4" y1="1921.2" x2="894.3" y2="1921.2" stroke-width="1.8"/>
<line x1="402.7" y1="2175" x2="402.7" y2="2945" stroke-width="1.8"/>
<line x1="389.7" y1="2174.7" x2="415.7" y2="2200.7" stroke-width="4.0"/>
<line x1="389.7" y1="2918.1" x2="415.7" y2="2944.1" stroke-width="4.0"/>
<line x1="390.5" y1="2187.7" x2="527" y2="2187.7" stroke-width="1.8"/>
<line x1="311.4" y1="2931.1" x2="527" y2="2931.1" stroke-width="1.8"/>
<text x="313.3" y="2473" font-size="50.9" text-anchor="start" textLength="92" lengthAdjust="spacingAndGlyphs" transform="rotate(-90 313.3 2473)">2110</text>
<text x="391" y="2603.6" font-size="50.9" text-anchor="start" textLength="94.1" lengthAdjust="spacingAndGlyphs" transform="rotate(-90 391 2603.6)">1600</text>
<line x1="514" y1="3035.2" x2="2080" y2="3035.2" stroke-width="1.8"/>
<line x1="514" y1="3048.2" x2="540" y2="3022.2" stroke-width="4.0"/>
<line x1="2054.5" y1="3048.2" x2="2080.5" y2="3022.2" stroke-width="4.0"/>
<line x1="527" y1="2931" x2="527" y2="3047" stroke-width="1.8"/>
<line x1="2067.5" y1="2931.1" x2="2067.5" y2="3046.3" stroke-width="1.8"/>
<text x="1244" y="3023.5" font-size="50.9" text-anchor="start" textLength="109" lengthAdjust="spacingAndGlyphs">3220</text>
<line x1="468" y1="3117.6" x2="2124.5" y2="3117.6" stroke-width="1.8"/>
<line x1="468.5" y1="3130.6" x2="494.5" y2="3104.6" stroke-width="4.0"/>
<line x1="2098.5" y1="3130.6" x2="2124.5" y2="3104.6" stroke-width="4.0"/>
<line x1="481.5" y1="2693.8" x2="481.5" y2="3131" stroke-width="1.8"/>
<line x1="2111.5" y1="2796.5" x2="2111.5" y2="3132.7" stroke-width="1.8"/>
<text x="1244" y="3105.8" font-size="50.9" text-anchor="start" textLength="109" lengthAdjust="spacingAndGlyphs">3380</text>
<line x1="2215" y1="2310.5" x2="2215" y2="2808" stroke-width="1.8"/>
<line x1="2202" y1="2310.6" x2="2228" y2="2336.6" stroke-width="4.0"/>
<line x1="2202" y1="2783.5" x2="2228" y2="2809.5" stroke-width="4.0"/>
<line x1="2111.3" y1="2323.6" x2="2228.2" y2="2323.6" stroke-width="1.8"/>
<line x1="2111.5" y1="2796.5" x2="2228.2" y2="2796.5" stroke-width="1.8"/>
<text x="2204.7" y="2647.8" font-size="50.9" text-anchor="start" textLength="184" lengthAdjust="spacingAndGlyphs" transform="rotate(-90 2204.7 2647.8)">1000×300</text>
<rect x="2007.8" y="2173.4" width="12" height="12" transform="rotate(30 2013.8 2179.4)" stroke="none" fill="#000"/>
<line x1="2013.8" y1="2179.4" x2="2160" y2="2071.4" stroke-width="1.8"/>
<line x1="2160" y1="2071.4" x2="2580.7" y2="2071.4" stroke-width="1.8"/>
<text x="2187" y="2061" font-size="48" text-anchor="start" textLength="364" lengthAdjust="spacingAndGlyphs">Пред. клапан Ду50</text>
<rect x="2062.5" y="2230" width="12" height="12" transform="rotate(30 2068.5 2236)" stroke="none" fill="#000"/>
<line x1="2068.5" y1="2236" x2="2160" y2="2153.3" stroke-width="1.8"/>
<line x1="2160" y1="2153.3" x2="2468.5" y2="2153.3" stroke-width="1.8"/>
<text x="2187" y="2142" font-size="48" text-anchor="start" textLength="256" lengthAdjust="spacingAndGlyphs">Выход Ду125</text>
<rect x="2021.7" y="2269.3" width="12" height="12" transform="rotate(30 2027.7 2275.3)" stroke="none" fill="#000"/>
<line x1="2038" y1="2278.7" x2="2160" y2="2304.9" stroke-width="1.8"/>
<line x1="2160" y1="2304.9" x2="2559" y2="2304.9" stroke-width="1.8"/>
<text x="2187.8" y="2292.7" font-size="48" text-anchor="start" textLength="344" lengthAdjust="spacingAndGlyphs">Обр. клапан Ду50</text>
<rect x="2061.5" y="2877" width="12" height="12" transform="rotate(30 2067.5 2883)" stroke="none" fill="#000"/>
<line x1="2067.5" y1="2883" x2="2160" y2="2978.2" stroke-width="1.8"/>
<line x1="2160" y1="2978.2" x2="2440" y2="2978.2" stroke-width="1.8"/>
<text x="2187" y="2967.8" font-size="48" text-anchor="start" textLength="227" lengthAdjust="spacingAndGlyphs">Вход Ду125</text>
<text x="3933.8" y="1074" font-size="50.9" text-anchor="start" textLength="363" lengthAdjust="spacingAndGlyphs">Газоход от котла</text>
<line x1="3907" y1="1085" x2="4324.7" y2="1085" stroke-width="1.8"/>
<line x1="3907" y1="1085" x2="3842" y2="1310.5" stroke-width="1.8"/>
<rect x="3835" y="1303.5" width="14" height="14" transform="rotate(30 3842 1310.5)" stroke="none" fill="#000"/>
<polyline points="3820.8,1234.8 3820.8,1282.8 3855.2,1295.7 3785,1324.6 3820.8,1338.3 3820.8,1385.6" stroke-width="1.8" fill="none"/>
<line x1="3725.8" y1="1309.8" x2="4245" y2="1309.8" stroke-width="1.8"/>
<line x1="3820.8" y1="1270.6" x2="3907" y2="1270.6" stroke-width="1.8"/>
<line x1="3820.8" y1="1349.4" x2="3907" y2="1349.4" stroke-width="1.8"/>
<line x1="3907" y1="1264.3" x2="3907" y2="1356.7" stroke-width="4.5"/>
<path d="M3907,1270.6 L3984.6,1270.6 A88,88 0 0 1 4072.6,1358.6 L4048.5,1467.7" stroke-width="4.5" fill="none"/>
<polyline points="3907,1349.4 3934,1349.4 3934,1467.7" stroke-width="4.5" fill="none"/>
<line x1="3931.7" y1="1467.7" x2="4048.5" y2="1467.7" stroke-width="4.5"/>
<polyline points="3931.7,1467.7 3978.3,1572.3 4003.4,1572.3 4048.5,1467.7" stroke-width="4.5" fill="none"/>
<polyline points="4066,1319.8 4135,1319.8 4171.3,1355.6 4171.3,1744" stroke-width="2.3400000000000003" fill="none"/>
<polyline points="4066,1393.7 4099,1427 4099,1744" stroke-width="2.3400000000000003" fill="none"/>
<line x1="4099" y1="1427" x2="4171.3" y2="1427" stroke-width="2.3400000000000003"/>
<line x1="4135" y1="1403" x2="4135" y2="1759" stroke-width="1.8" stroke-dasharray="104,16,8,16"/>
<line x1="4233.4" y1="1169" x2="4233.4" y2="1386.3" stroke-width="1.8"/>
<line x1="4220.4" y1="1296.8" x2="4246.4" y2="1322.8" stroke-width="4.0"/>
<line x1="4220.4" y1="1361" x2="4246.4" y2="1387" stroke-width="4.0"/>
<line x1="4058.5" y1="1374" x2="4245" y2="1374" stroke-width="1.8"/>
<text x="4223" y="1265" font-size="50.9" text-anchor="start" textLength="84" lengthAdjust="spacingAndGlyphs" transform="rotate(-90 4223 1265)">225</text>
<text x="4347" y="1483.7" font-size="50.9" text-anchor="start" textLength="427" lengthAdjust="spacingAndGlyphs">Газоход от дымососа</text>
<text x="4347" y="1542.2" font-size="50.9" text-anchor="start" textLength="163.1" lengthAdjust="spacingAndGlyphs">к трубе</text>
<line x1="4320" y1="1552.5" x2="4801.5" y2="1552.5" stroke-width="1.8"/>
<line x1="4320" y1="1552.5" x2="4292.5" y2="1603" stroke-width="1.8"/>
<rect x="4285.5" y="1596" width="14" height="14" transform="rotate(30 4292.5 1603)" stroke="none" fill="#000"/>
<line x1="4264.7" y1="1590" x2="4264.7" y2="1703" stroke-width="2.3400000000000003"/>
<line x1="4320" y1="1590" x2="4320" y2="1703" stroke-width="2.3400000000000003"/>
<polyline points="4228.4,1590.3 4282,1590.3 4286.7,1578 4292.5,1597 4296,1590.3 4356,1590.3" stroke-width="1.8" fill="none"/>
<line x1="4292.3" y1="1566" x2="4292.3" y2="1952.5" stroke-width="1.8" stroke-dasharray="104,16,8,16"/>
<line x1="4064" y1="1744" x2="4205.5" y2="1744" stroke-width="2.3400000000000003"/>
<line x1="4064" y1="1869.3" x2="4205.5" y2="1869.3" stroke-width="2.3400000000000003"/>
<line x1="4064" y1="1735.3" x2="4064" y2="1878.6" stroke-width="4.5"/>
<line x1="4205.5" y1="1735.3" x2="4205.5" y2="1878.6" stroke-width="3.15"/>
<polyline points="4053.9,1761.2 4053.9,1771.3 4064,1771.3" stroke-width="3.6" fill="none"/>
<polyline points="4053.9,1851.7 4053.9,1842.5 4064,1842.5" stroke-width="3.6" fill="none"/>
<line x1="4041" y1="1807" x2="4452.2" y2="1807" stroke-width="1.8" stroke-dasharray="104,16,8,16"/>
<rect x="4127.8" y="1862.3" width="14" height="14" transform="rotate(30 4134.8 1869.3)" stroke="none" fill="#000"/>
<polyline points="4134.8,1869.3 4110.2,1928.5 3438.2,1928.5" stroke-width="1.8" fill="none"/>
<text x="3466" y="1918" font-size="49.4" text-anchor="start" textLength="617" lengthAdjust="spacingAndGlyphs">Карман всасывающий дымососа</text>
<line x1="4204.3" y1="1737" x2="4204.3" y2="1878" stroke-width="4.5"/>
<rect x="4216.5" y="1756" width="9.5" height="106" stroke="none" fill="#000"/>
<rect x="4204" y="1739" width="22" height="11" stroke="none" fill="#000"/>
<rect x="4204" y="1853" width="22" height="19" stroke="none" fill="#000"/>
<circle cx="4209" cy="1743.7" r="7.5" stroke="none" fill="#000"/>
<circle cx="4220.6" cy="1743.7" r="8" stroke="none" fill="#000"/>
<circle cx="4231" cy="1754" r="8" stroke="none" fill="#000"/>
<circle cx="4231" cy="1764.4" r="8" stroke="none" fill="#000"/>
<circle cx="4222" cy="1774.7" r="8" stroke="none" fill="#000"/>
<circle cx="4223.5" cy="1783.6" r="7.5" stroke="none" fill="#000"/>
<circle cx="4231" cy="1792.5" r="8.5" stroke="none" fill="#000"/>
<circle cx="4231" cy="1831" r="8.5" stroke="none" fill="#000"/>
<circle cx="4210" cy="1856" r="7.5" stroke="none" fill="#000"/>
<circle cx="4222" cy="1853" r="8" stroke="none" fill="#000"/>
<circle cx="4231" cy="1856" r="8" stroke="none" fill="#000"/>
<circle cx="4231" cy="1864" r="8" stroke="none" fill="#000"/>
<circle cx="4220.6" cy="1869.4" r="8" stroke="none" fill="#000"/>
<circle cx="4220.6" cy="1876" r="6" stroke="none" fill="#000"/>
<line x1="4210" y1="1760" x2="4218" y2="1760" stroke-width="4.5"/>
<line x1="4210" y1="1851.6" x2="4218" y2="1851.6" stroke-width="4.5"/>
<rect x="4207" y="1789" width="25" height="7.5" stroke="none" fill="#000"/>
<rect x="4207" y="1829.5" width="25" height="7.5" stroke="none" fill="#000"/>
<line x1="4233.9" y1="1760" x2="4250" y2="1760" stroke-width="4.5"/>
<line x1="4233.9" y1="1851.6" x2="4250" y2="1851.6" stroke-width="4.5"/>
<polyline points="4261.8,1916.5 4252.6,1908 4252.6,1717.7 4260.9,1710.3" stroke-width="4.5" fill="none"/>
<line x1="4250.5" y1="1752" x2="4250.5" y2="1862" stroke-width="5.8500000000000005"/>
<circle cx="4250.5" cy="1755" r="4" stroke="none" fill="#000"/>
<circle cx="4250.5" cy="1768" r="4" stroke="none" fill="#000"/>
<circle cx="4250.5" cy="1782" r="4" stroke="none" fill="#000"/>
<circle cx="4250.5" cy="1796" r="4" stroke="none" fill="#000"/>
<circle cx="4250.5" cy="1810" r="4" stroke="none" fill="#000"/>
<circle cx="4250.5" cy="1824" r="4" stroke="none" fill="#000"/>
<circle cx="4250.5" cy="1838" r="4" stroke="none" fill="#000"/>
<circle cx="4250.5" cy="1852" r="4" stroke="none" fill="#000"/>
<circle cx="4250.5" cy="1862" r="4" stroke="none" fill="#000"/>
<rect x="4263.7" y="1712.2" width="57.3" height="216.3" stroke-width="4.5" fill="none"/>
<line x1="4253.5" y1="1703.3" x2="4331.2" y2="1703.3" stroke-width="6.3"/>
<line x1="4263.7" y1="1706.6" x2="4321" y2="1706.6" stroke-width="3.6"/>
<rect x="4319" y="1716" width="9.5" height="254" stroke="none" fill="#000"/>
<circle cx="4327" cy="1722" r="4.5" stroke="none" fill="#000"/>
<circle cx="4327" cy="1735" r="4.5" stroke="none" fill="#000"/>
<circle cx="4327" cy="1748" r="4.5" stroke="none" fill="#000"/>
<circle cx="4327" cy="1760" r="4.5" stroke="none" fill="#000"/>
<line x1="4256.8" y1="1741" x2="4265" y2="1741" stroke-width="4.5"/>
<line x1="4256.8" y1="1872.6" x2="4265" y2="1872.6" stroke-width="4.5"/>
<line x1="4325.6" y1="1780.6" x2="4325.6" y2="1970" stroke-width="4.5"/>
<line x1="4429" y1="1837.9" x2="4429" y2="1970" stroke-width="4.5"/>
<line x1="4325.6" y1="1839.7" x2="4429" y2="1839.7" stroke-width="4.5"/>
<line x1="4325.6" y1="1855.5" x2="4429" y2="1855.5" stroke-width="4.5"/>
<line x1="4325.6" y1="1898" x2="4429" y2="1898" stroke-width="4.5"/>
<line x1="4325.6" y1="1912.8" x2="4429" y2="1912.8" stroke-width="4.5"/>
<line x1="4340.4" y1="1855.5" x2="4340.4" y2="1898" stroke-width="4.5"/>
<line x1="4414.3" y1="1855.5" x2="4414.3" y2="1898" stroke-width="4.5"/>
<polyline points="4340.4,1858 4357,1858 4357,1863 4348,1872 4340.4,1872" stroke-width="3.6" fill="none"/>
<polyline points="4340.4,1895 4357,1895 4357,1889 4348,1881 4340.4,1881" stroke-width="3.6" fill="none"/>
<polyline points="4414.3,1858 4398,1858 4398,1863 4407,1872 4414.3,1872" stroke-width="3.6" fill="none"/>
<polyline points="4414.3,1895 4398,1895 4398,1889 4407,1881 4414.3,1881" stroke-width="3.6" fill="none"/>
<circle cx="4341.3" cy="1912.8" r="6" stroke="none" fill="#000"/>
<circle cx="4412.5" cy="1912.8" r="6" stroke="none" fill="#000"/>
<rect x="4334" y="1782.4" width="66.5" height="53.6" stroke="none" fill="#000"/>
<polyline points="4400.5,1774.1 4419,1774.1 4430,1780.6 4430,1832 4419,1837 4400.5,1837" stroke-width="4.5" fill="none"/>
<line x1="4330.2" y1="1774.1" x2="4400.5" y2="1774.1" stroke-width="4.5"/>
<rect x="4335.5" y="1754.5" width="34.5" height="29.5" stroke="none" fill="#000"/>
<rect x="4342" y="1762" width="4" height="3" fill="#fff" stroke="none"/>
<rect x="4356" y="1762" width="4" height="3" fill="#fff" stroke="none"/>
<line x1="4330.2" y1="1782" x2="4330.2" y2="1836" stroke-width="4.5"/>
<line x1="4063" y1="1971.9" x2="4477.6" y2="1971.9" stroke-width="4.5"/>
<clipPath id="hc2"><rect x="4064" y="1974" width="413.6" height="33"/></clipPath>
<g clip-path="url(#hc2)" stroke-linecap="butt">
<line x1="4031" y1="2007" x2="4064" y2="1974" stroke-width="2.0" stroke-dasharray="62,9,12,9" stroke-dashoffset="38.9"/>
<line x1="4047.7" y1="2007" x2="4080.7" y2="1974" stroke-width="2.0" stroke-dasharray="62,9,12,9" stroke-dashoffset="18.1"/>
<line x1="4064.4" y1="2007" x2="4097.4" y2="1974" stroke-width="2.0" stroke-dasharray="62,9,12,9" stroke-dashoffset="78.1"/>
<line x1="4081.1" y1="2007" x2="4114.1" y2="1974" stroke-width="2.0" stroke-dasharray="62,9,12,9" stroke-dashoffset="8.7"/>
<line x1="4097.8" y1="2007" x2="4130.8" y2="1974" stroke-width="2.0" stroke-dasharray="62,9,12,9" stroke-dashoffset="64.3"/>
<line x1="4114.5" y1="2007" x2="4147.5" y2="1974" stroke-width="2.0" stroke-dasharray="62,9,12,9" stroke-dashoffset="43.9"/>
<line x1="4131.2" y1="2007" x2="4164.2" y2="1974" stroke-width="2.0" stroke-dasharray="62,9,12,9" stroke-dashoffset="7"/>
<line x1="4147.9" y1="2007" x2="4180.9" y2="1974" stroke-width="2.0" stroke-dasharray="62,9,12,9" stroke-dashoffset="60.9"/>
<line x1="4164.6" y1="2007" x2="4197.6" y2="1974" stroke-width="2.0" stroke-dasharray="62,9,12,9" stroke-dashoffset="4.5"/>
<line x1="4181.3" y1="2007" x2="4214.3" y2="1974" stroke-width="2.0" stroke-dasharray="62,9,12,9" stroke-dashoffset="52"/>
<line x1="4198" y1="2007" x2="4231" y2="1974" stroke-width="2.0" stroke-dasharray="62,9,12,9" stroke-dashoffset="8.4"/>
<line x1="4214.7" y1="2007" x2="4247.7" y2="1974" stroke-width="2.0" stroke-dasharray="62,9,12,9" stroke-dashoffset="10.9"/>
<line x1="4231.4" y1="2007" x2="4264.4" y2="1974" stroke-width="2.0" stroke-dasharray="62,9,12,9" stroke-dashoffset="50.9"/>
<line x1="4248.1" y1="2007" x2="4281.1" y2="1974" stroke-width="2.0" stroke-dasharray="62,9,12,9" stroke-dashoffset="99.2"/>
<line x1="4264.8" y1="2007" x2="4297.8" y2="1974" stroke-width="2.0" stroke-dasharray="62,9,12,9" stroke-dashoffset="14.9"/>
<line x1="4281.5" y1="2007" x2="4314.5" y2="1974" stroke-width="2.0" stroke-dasharray="62,9,12,9" stroke-dashoffset="26.8"/>
<line x1="4298.2" y1="2007" x2="4331.2" y2="1974" stroke-width="2.0" stroke-dasharray="62,9,12,9" stroke-dashoffset="75.3"/>
<line x1="4314.9" y1="2007" x2="4347.9" y2="1974" stroke-width="2.0" stroke-dasharray="62,9,12,9" stroke-dashoffset="113.7"/>
<line x1="4331.6" y1="2007" x2="4364.6" y2="1974" stroke-width="2.0" stroke-dasharray="62,9,12,9" stroke-dashoffset="69.3"/>
<line x1="4348.3" y1="2007" x2="4381.3" y2="1974" stroke-width="2.0" stroke-dasharray="62,9,12,9" stroke-dashoffset="47.6"/>
<line x1="4365" y1="2007" x2="4398" y2="1974" stroke-width="2.0" stroke-dasharray="62,9,12,9" stroke-dashoffset="117.2"/>
<line x1="4381.7" y1="2007" x2="4414.7" y2="1974" stroke-width="2.0" stroke-dasharray="62,9,12,9" stroke-dashoffset="5.6"/>
<line x1="4398.4" y1="2007" x2="4431.4" y2="1974" stroke-width="2.0" stroke-dasharray="62,9,12,9" stroke-dashoffset="103"/>
<line x1="4415.1" y1="2007" x2="4448.1" y2="1974" stroke-width="2.0" stroke-dasharray="62,9,12,9" stroke-dashoffset="34.8"/>
<line x1="4431.8" y1="2007" x2="4464.8" y2="1974" stroke-width="2.0" stroke-dasharray="62,9,12,9" stroke-dashoffset="17.3"/>
<line x1="4448.5" y1="2007" x2="4481.5" y2="1974" stroke-width="2.0" stroke-dasharray="62,9,12,9" stroke-dashoffset="14.1"/>
<line x1="4465.2" y1="2007" x2="4498.2" y2="1974" stroke-width="2.0" stroke-dasharray="62,9,12,9" stroke-dashoffset="37"/>
</g>
<text x="3403" y="2439" font-size="48" text-anchor="start" textLength="363" lengthAdjust="spacingAndGlyphs">Газоход от котла</text>
<line x1="3375" y1="2451" x2="3794" y2="2451" stroke-width="1.8"/>
<line x1="3794" y1="2451" x2="3834.3" y2="2326.5" stroke-width="1.8"/>
<rect x="3827.3" y="2319.5" width="14" height="14" transform="rotate(30 3834.3 2326.5)" stroke="none" fill="#000"/>
<polyline points="3793.2,2230.7 3793.2,2308 3817,2317.8 3770,2336 3793.2,2345.7 3793.2,2422.4" stroke-width="1.8" fill="none"/>
<line x1="3698.4" y1="2327.2" x2="3911" y2="2327.2" stroke-width="1.8"/>
<line x1="3911" y1="2327.2" x2="4099" y2="2327.2" stroke-width="1.8" stroke-dasharray="104,16,8,16"/>
<line x1="3793.2" y1="2267.3" x2="3907.5" y2="2267.3" stroke-width="1.8"/>
<line x1="3793.2" y1="2387.5" x2="3907.5" y2="2387.5" stroke-width="1.8"/>
<line x1="3911" y1="2257" x2="3911" y2="2399.7" stroke-width="5.8500000000000005"/>
<rect x="3914.5" y="2267" width="9.5" height="122" stroke-width="2.3400000000000003" fill="none"/>
<rect x="3924" y="2266.6" width="151.8" height="120.9" stroke-width="4.5" fill="none"/>
<line x1="3988.3" y1="2266.6" x2="3988.3" y2="2387.5" stroke-width="4.5"/>
<line x1="3944" y1="2262" x2="3952.8" y2="2191.7" stroke-width="3.15"/>
<line x1="4034.7" y1="2262" x2="4025" y2="2191.7" stroke-width="3.15"/>
<line x1="3944" y1="2262" x2="4034.7" y2="2262" stroke-width="1.8"/>
<line x1="3952.8" y1="2191.7" x2="4025" y2="2191.7" stroke-width="2.3400000000000003"/>
<polyline points="3952.8,2191.7 3952.8,2120 3988.3,2084.4 4176.5,2084.4 4176.5,2392" stroke-width="2.52" fill="none"/>
<polyline points="4025,2191.7 4059.7,2156.5 4176.5,2156.5" stroke-width="2.52" fill="none"/>
<line x1="4060" y1="2084.6" x2="4060" y2="2155.8" stroke-width="2.3400000000000003"/>
<line x1="4068.6" y1="2084.6" x2="4068.6" y2="2155.8" stroke-width="2.3400000000000003"/>
<line x1="4139.8" y1="2084.6" x2="4139.8" y2="2155.8" stroke-width="2.3400000000000003"/>
<line x1="4045" y1="2120.4" x2="4164.4" y2="2120.4" stroke-width="1.8"/>
<line x1="3988.3" y1="2167" x2="3988.3" y2="2267" stroke-width="1.8"/>
<line x1="4104" y1="2157" x2="4104" y2="2392" stroke-width="2.3400000000000003"/>
<line x1="4104" y1="2392" x2="4176.5" y2="2392" stroke-width="2.3400000000000003"/>
<line x1="4104" y1="2392" x2="4092.3" y2="2462" stroke-width="2.3400000000000003"/>
<line x1="4176.5" y1="2392" x2="4188.2" y2="2462" stroke-width="2.3400000000000003"/>
<line x1="4092.3" y1="2462.6" x2="4188.2" y2="2462.6" stroke-width="2.3400000000000003"/>
<line x1="4092.5" y1="2462.6" x2="4092.5" y2="2556" stroke-width="2.3400000000000003"/>
<line x1="4188.2" y1="2462.6" x2="4188.2" y2="2556" stroke-width="2.3400000000000003"/>
<line x1="4140" y1="2168" x2="4140" y2="2581" stroke-width="1.8" stroke-dasharray="104,16,8,16"/>
<line x1="4069.3" y1="2485.8" x2="4069.3" y2="2627.6" stroke-width="3.6"/>
<line x1="4210.7" y1="2485.8" x2="4210.7" y2="2627.6" stroke-width="3.6"/>
<line x1="4069.3" y1="2494.4" x2="4092.5" y2="2494.4" stroke-width="2.3400000000000003"/>
<line x1="4188.2" y1="2494.4" x2="4210.7" y2="2494.4" stroke-width="2.3400000000000003"/>
<line x1="4069.3" y1="2557" x2="4210.7" y2="2557" stroke-width="2.6999999999999997"/>
<line x1="4069.3" y1="2620.2" x2="4210.7" y2="2620.2" stroke-width="2.3400000000000003"/>
<rect x="4058.8" y="2533.4" width="8.6" height="47.6" stroke-width="2.3400000000000003" fill="none"/>
<rect x="4209" y="2490" width="34" height="30" stroke="none" fill="#000"/>
<rect x="4209" y="2584" width="34" height="40" stroke="none" fill="#000"/>
<rect x="4209.5" y="2488" width="5.5" height="140" stroke="none" fill="#000"/>
<line x1="4226.6" y1="2500" x2="4226.6" y2="2620" stroke-width="5.8500000000000005"/>
<circle cx="4236.7" cy="2543.4" r="7" stroke="none" fill="#000"/>
<circle cx="4236.7" cy="2582.7" r="7" stroke="none" fill="#000"/>
<circle cx="4226" cy="2486" r="5.5" stroke="none" fill="#000"/>
<circle cx="4236" cy="2494" r="6.5" stroke="none" fill="#000"/>
<circle cx="4228" cy="2527" r="7.5" stroke="none" fill="#000"/>
<circle cx="4226" cy="2628" r="5.5" stroke="none" fill="#000"/>
<circle cx="4236" cy="2620" r="6.5" stroke="none" fill="#000"/>
<circle cx="4222" cy="2558" r="5" stroke="none" fill="#000"/>
<rect x="4216" y="2506" width="6" height="5" fill="#fff" stroke="none"/>
<rect x="4216" y="2600" width="6" height="5" fill="#fff" stroke="none"/>
<line x1="4243" y1="2510.5" x2="4256" y2="2510.5" stroke-width="4.5"/>
<line x1="4243" y1="2603" x2="4256" y2="2603" stroke-width="4.5"/>
<polyline points="4266,2465.7 4257.7,2472 4257.7,2609" stroke-width="4.5" fill="none"/>
<circle cx="4257.7" cy="2505" r="4.5" stroke="none" fill="#000"/>
<circle cx="4257.7" cy="2530" r="4.5" stroke="none" fill="#000"/>
<circle cx="4257.7" cy="2560" r="4.5" stroke="none" fill="#000"/>
<circle cx="4257.7" cy="2590" r="4.5" stroke="none" fill="#000"/>
<rect x="4268.7" y="2450" width="56.7" height="158.4" stroke-width="4.5" fill="none"/>
<circle cx="4328" cy="2475" r="4.5" stroke="none" fill="#000"/>
<circle cx="4328" cy="2490" r="4.5" stroke="none" fill="#000"/>
<circle cx="4328" cy="2500" r="4.5" stroke="none" fill="#000"/>
<circle cx="4328" cy="2520" r="4.5" stroke="none" fill="#000"/>
<circle cx="4328" cy="2545" r="4.5" stroke="none" fill="#000"/>
<circle cx="4328" cy="2600" r="4.5" stroke="none" fill="#000"/>
<rect x="4330.9" y="2494" width="104.2" height="126.2" stroke-width="4.5" fill="none"/>
<line x1="4330.9" y1="2509.6" x2="4435.1" y2="2509.6" stroke-width="4.5"/>
<line x1="4330.9" y1="2604.7" x2="4435.1" y2="2604.7" stroke-width="4.5"/>
<line x1="4349" y1="2509.6" x2="4349" y2="2604.7" stroke-width="2.7"/>
<circle cx="4347.3" cy="2500.4" r="5" stroke="none" fill="#000"/>
<circle cx="4417.8" cy="2500.4" r="5" stroke="none" fill="#000"/>
<circle cx="4347.3" cy="2613.8" r="5" stroke="none" fill="#000"/>
<circle cx="4417.8" cy="2613.8" r="5" stroke="none" fill="#000"/>
<rect x="4340" y="2524.2" width="65.9" height="64.8" stroke="none" fill="#000"/>
<polygon points="4351,2547 4365,2547 4368.4,2551 4368.4,2566 4365,2570 4351,2570 4347.3,2566 4347.3,2551" fill="#fff" stroke="none"/>
<polyline points="4405.9,2524.2 4424,2524.2 4431.5,2532.5 4431.5,2581 4424,2589 4405.9,2589" stroke-width="4.5" fill="none"/>
<line x1="4338" y1="2530" x2="4338" y2="2585" stroke-width="4.5"/>
<rect x="4259.5" y="2608.4" width="75.9" height="95.1" stroke-width="4.5" fill="none"/>
<line x1="4267.8" y1="2620" x2="4267.8" y2="2690.7" stroke-width="2.3400000000000003"/>
<line x1="4326.3" y1="2620" x2="4326.3" y2="2690.7" stroke-width="2.3400000000000003"/>
<line x1="4267.8" y1="2690.7" x2="4326.3" y2="2690.7" stroke-width="3.6"/>
<rect x="4275" y="2619" width="44" height="19.5" stroke-width="4.5" fill="none"/>
<line x1="4275" y1="2627.6" x2="4319" y2="2627.6" stroke-width="3.6"/>
<circle cx="4262" cy="2633" r="4" stroke="none" fill="#000"/>
<circle cx="4332" cy="2633" r="4" stroke="none" fill="#000"/>
<circle cx="4262" cy="2655" r="4" stroke="none" fill="#000"/>
<circle cx="4332" cy="2655" r="4" stroke="none" fill="#000"/>
<circle cx="4262" cy="2677" r="4" stroke="none" fill="#000"/>
<circle cx="4332" cy="2677" r="4" stroke="none" fill="#000"/>
<circle cx="4262" cy="2697" r="4" stroke="none" fill="#000"/>
<circle cx="4332" cy="2697" r="4" stroke="none" fill="#000"/>
<circle cx="4270" cy="2697" r="3.5" stroke="none" fill="#000"/>
<circle cx="4270" cy="2613" r="3.5" stroke="none" fill="#000"/>
<circle cx="4285" cy="2697" r="3.5" stroke="none" fill="#000"/>
<circle cx="4285" cy="2613" r="3.5" stroke="none" fill="#000"/>
<circle cx="4300" cy="2697" r="3.5" stroke="none" fill="#000"/>
<circle cx="4300" cy="2613" r="3.5" stroke="none" fill="#000"/>
<circle cx="4315" cy="2697" r="3.5" stroke="none" fill="#000"/>
<circle cx="4315" cy="2613" r="3.5" stroke="none" fill="#000"/>
</g>
</svg>
</body></html>
